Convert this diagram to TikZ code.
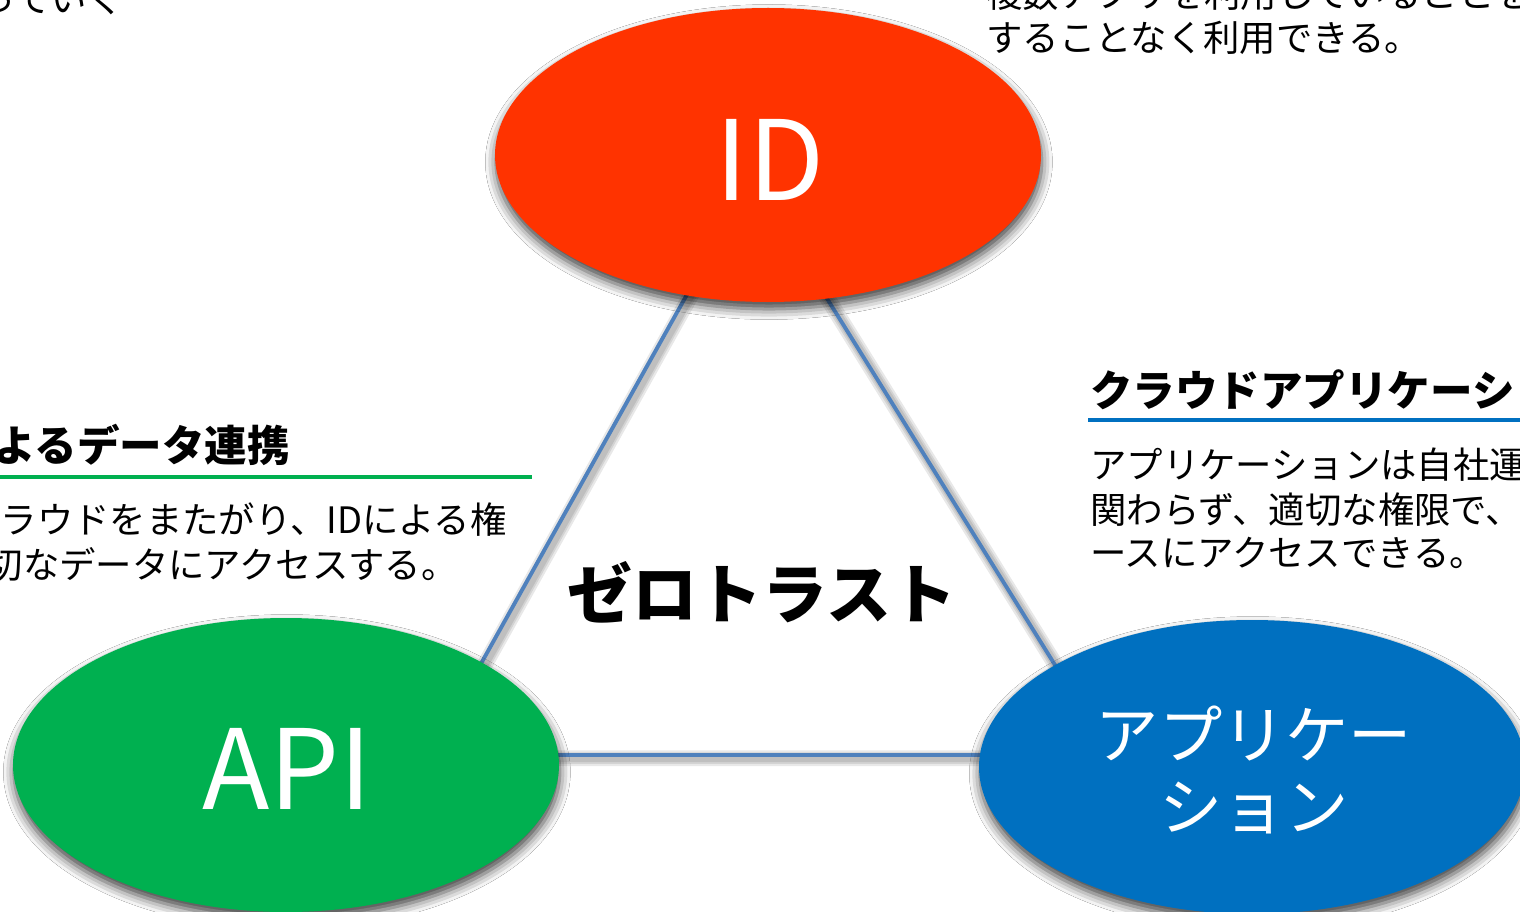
\documentclass[tikz,border=0pt]{standalone}
\usepackage{fontspec}
\setmainfont{Noto Sans CJK JP}
\usetikzlibrary{shapes.geometric,shadows.blur}
\definecolor{idred}{HTML}{FF3300}
\definecolor{apigreen}{HTML}{00B050}
\definecolor{appblue}{HTML}{0070C0}
\definecolor{triline}{HTML}{4F81BD}
\tikzset{
  bubble/.style={ellipse, minimum width=546*0.02cm, minimum height=294*0.02cm, inner sep=0pt, text=white,
    blur shadow={shadow xshift=0.5pt, shadow yshift=-4pt, shadow blur radius=6pt, shadow opacity=75}},
  bodytxt/.style={inner sep=0pt, font=\fontsize{20.7pt}{24pt}\selectfont, anchor=west},
  headtxt/.style={inner sep=0pt, font=\fontsize{24.2pt}{28pt}\selectfont\bfseries},
  triedge/.style={draw=triline, line width=2.2pt},
  trishadow/.style={draw=black, line width=#1, opacity=0.09, transform canvas={xshift=1.5pt, yshift=-1.8pt}},
  rule/.style={line width=1.8pt}
}
\begin{document}
\begin{tikzpicture}[x=0.02cm,y=-0.02cm]
\useasboundingbox (0,0) rectangle (1520,912);
\clip (0,0) rectangle (1520,912);
\fill[white] (0,0) rectangle (1520,912);

% triangle
\coordinate (tA) at (752,178);
\coordinate (tB) at (430,755);
\coordinate (tC) at (1111,755);
\foreach \w in {9pt,6.5pt,4.5pt}{
  \draw[trishadow=\w] (tA) -- (tB) -- (tC) -- cycle;
}
\draw[triedge, line join=round] (tA) -- (tB) -- (tC) -- cycle;

% ellipses
\node[bubble, fill=idred] (id) at (768,155) {};
\node[bubble, fill=apigreen] (api) at (286,765) {};
\node[bubble, fill=appblue] (app) at (1252,767) {};
\node[inner sep=0pt, text=white, font=\fontsize{63pt}{70pt}\selectfont] (idl) at (770,160) {ID};
\node[inner sep=0pt, text=white, font=\fontsize{63pt}{70pt}\selectfont] (apil) at (287,769) {API};
\node[inner sep=0pt, text=white, align=center, font=\fontsize{36pt}{41pt}\selectfont] (appl) at (1254,770) {アプリケー\\ション};

% center label
\node[inner sep=0pt, font=\fontsize{37pt}{40pt}\selectfont\bfseries] (zt) at (762,592) {ゼロトラスト};

% top-left fragment
\node[bodytxt, anchor=east] (tl) at (124,-1) {っていく};

% top-right text
\node[bodytxt] (tr1) at (986,-6) {複数アプリを利用していることを意識};
\node[bodytxt] (tr2) at (986,38) {することなく利用できる。};

% left block
\node[headtxt, anchor=east] (lh) at (290,445) {APIによるデータ連携};
\coordinate (lr1) at (0,477);
\coordinate (lr2) at (532,477);
\draw[rule, draw=apigreen] (lr1) -- (lr2);
\node[bodytxt] (lb1) at (-36,520) {クラウドをまたがり、IDによる権};
\node[bodytxt] (lb2) at (-50,565) {適切なデータにアクセスする。};

% right block
\node[headtxt, anchor=west] (rh) at (1090,390) {クラウドアプリケーション};
\coordinate (rr1) at (1088,420);
\coordinate (rr2) at (1530,420);
\draw[rule, draw=appblue] (rr1) -- (rr2);
\node[bodytxt] (rb1) at (1090,465) {アプリケーションは自社運用か};
\node[bodytxt] (rb2) at (1090,510) {関わらず、適切な権限で、必要な};
\node[bodytxt] (rb3) at (1090,553) {ースにアクセスできる。};
\end{tikzpicture}
\end{document}
